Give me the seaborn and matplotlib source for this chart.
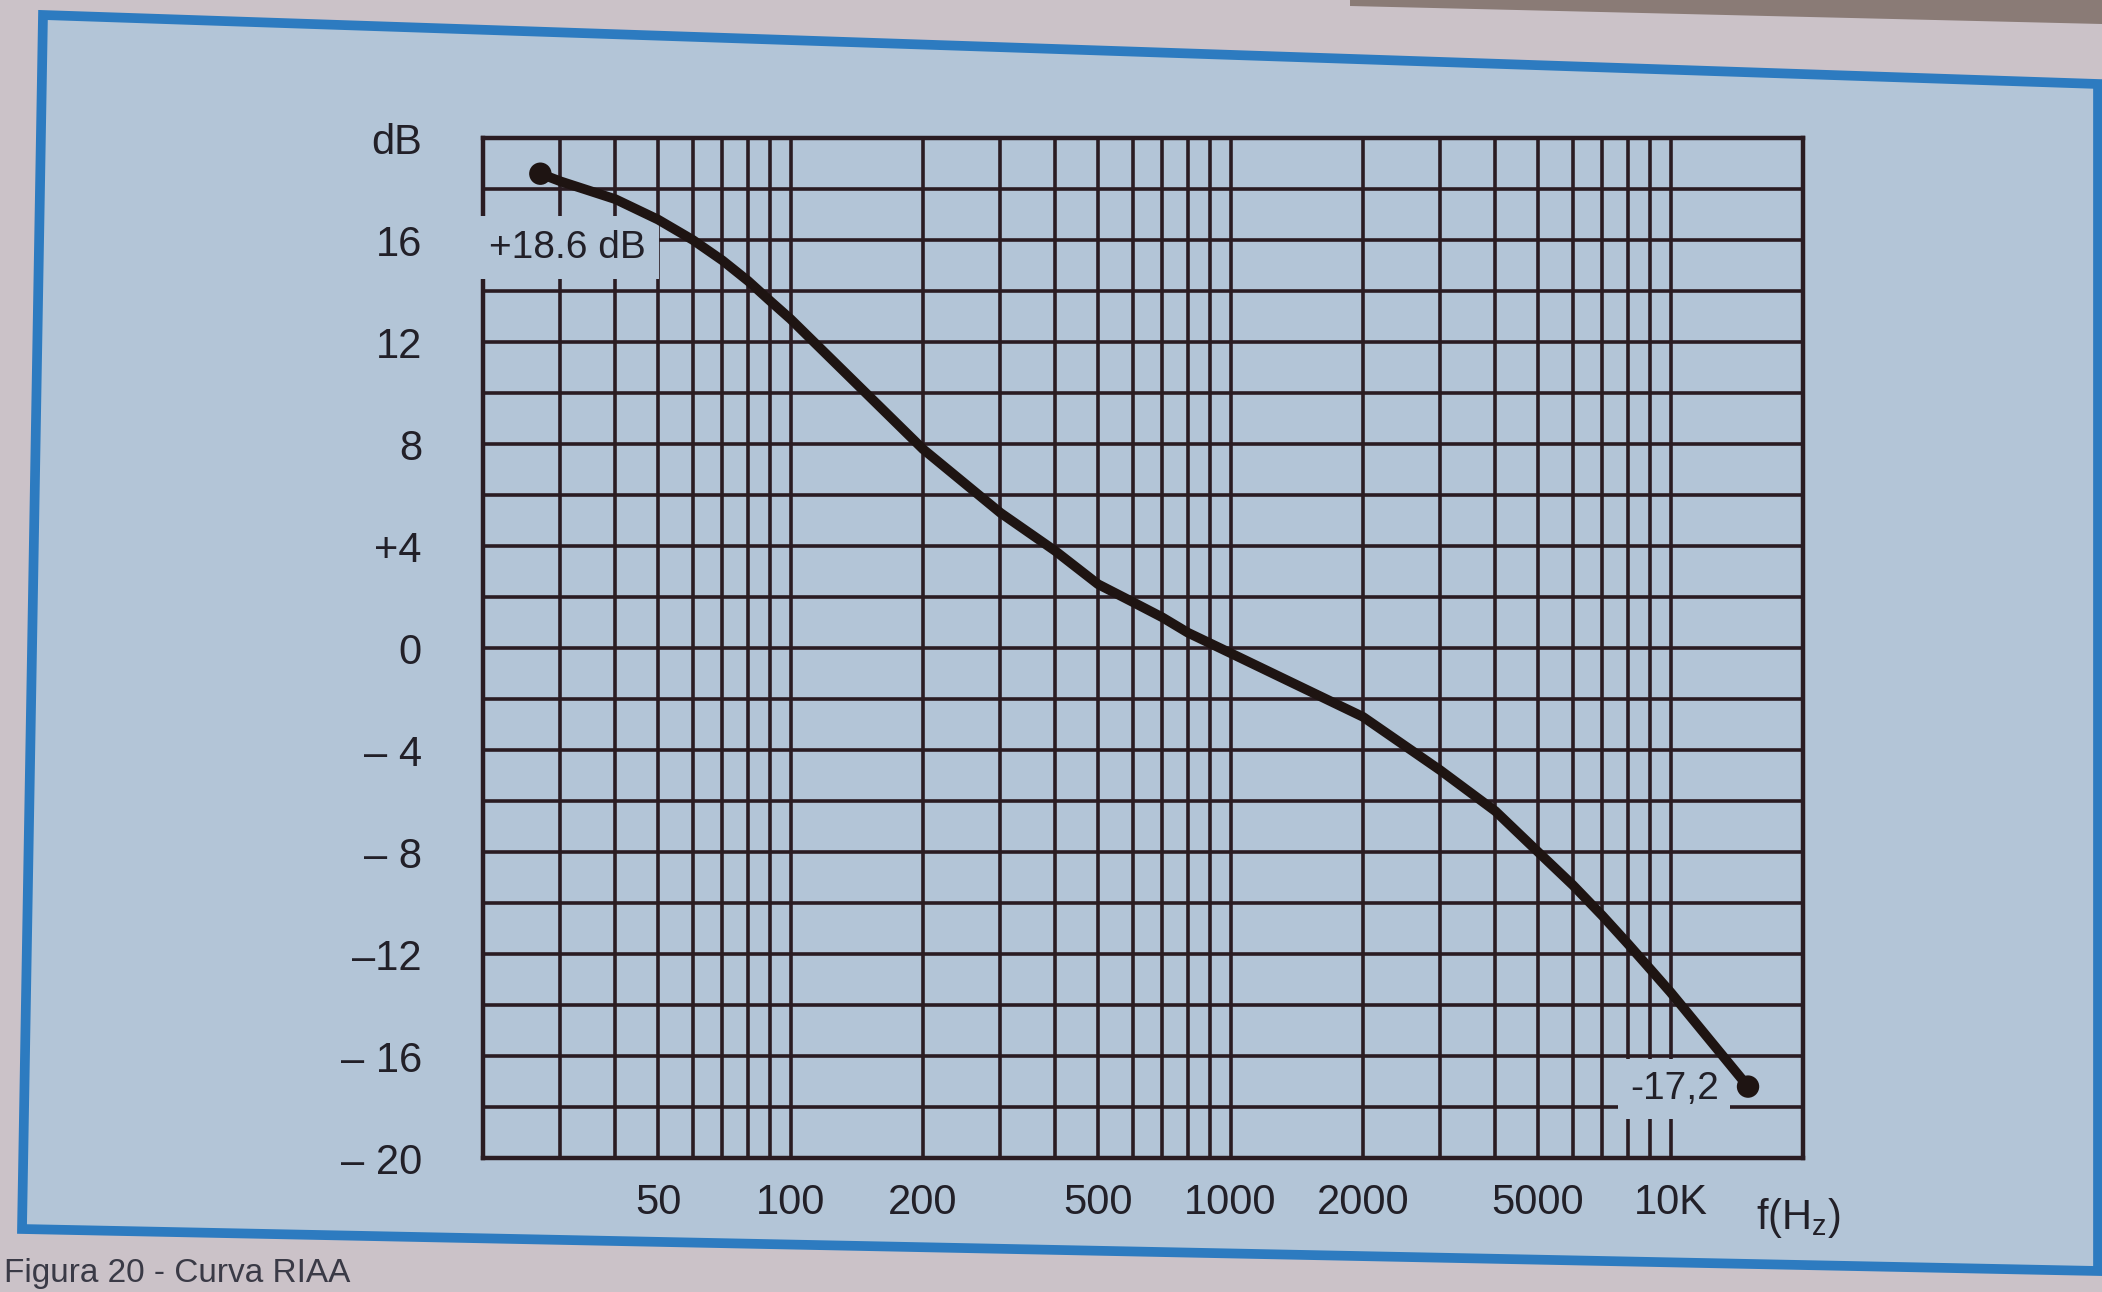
import matplotlib
matplotlib.use("Agg")
import matplotlib.pyplot as plt
import seaborn as sns
import pandas as pd
from matplotlib.patches import Polygon

# RIAA curve (frequency in Hz, gain in dB)
freq = [27, 30, 40, 50, 60, 70, 80, 90, 100, 200, 300, 400, 500, 600, 700, 800, 1000,
        2000, 3000, 4000, 5000, 6000, 7000, 8000, 9000, 10000, 15000]
gain = [18.6, 18.3, 17.6, 16.8, 16.0, 15.2, 14.4, 13.6, 12.9, 7.8, 5.3, 3.8, 2.5, 1.8, 1.2, 0.6, -0.2,
        -2.7, -4.8, -6.4, -8.0, -9.3, -10.5, -11.6, -12.6, -13.5, -17.2]

# end points marked with a dot
end_freq = [27, 15000]
end_gain = [18.6, -17.2]

x_ticks = [50, 100, 200, 500, 1000, 2000, 5000, 10000]
x_labels = ["50", "100", "200", "500", "1000", "2000", "5000", "10K"]
y_ticks = [20, 16, 12, 8, 4, 0, -4, -8, -12, -16, -20]
y_labels = ["dB", "16", "12", "8", "+4", "0", "– 4", "– 8", "–12", "– 16", "– 20"]

df = pd.DataFrame({"f": freq, "dB": gain})
ends = pd.DataFrame({"f": end_freq, "dB": end_gain})

sns.set_theme(style="white")
plt.rcParams["font.family"] = ["Liberation Sans", "DejaVu Sans"]
plt.rcParams["mathtext.fontset"] = "custom"
plt.rcParams["mathtext.rm"] = "Liberation Sans"

bg = "#b3c5d7"
ink = "#2a1c22"
W, H = 2102, 1292

fig = plt.figure(figsize=(W / 100, H / 100), dpi=100)
fig.patch.set_facecolor("#cbc2c8")

# blue frame of the printed figure (slightly tilted in the photo)
def px(pts):
    return [(x / W, 1 - y / H) for x, y in pts]

frame = Polygon(px([(43, 15), (2098, 84), (2098, 1271), (22, 1229)]), closed=True,
                transform=fig.transFigure, facecolor=bg, edgecolor="#2d7bc0",
                linewidth=7, zorder=-10)
fig.patches.append(frame)
band = Polygon(px([(1350, 0), (2102, 0), (2102, 24), (1350, 6)]), closed=True,
               transform=fig.transFigure, facecolor="#8a7b76", edgecolor="none", zorder=-9)
fig.patches.append(band)

ax = fig.add_axes([483 / W, 1 - 1158 / H, 1320 / W, (1158 - 138) / H])
ax.set_facecolor(bg)
ax.set_xscale("log")
ax.set_xlim(20, 20000)
ax.set_ylim(-20, 20)

# log paper grid
grid_x = [m * d for d in (10, 100, 1000) for m in range(2, 10)] + [10000]
ax.set_xticks(grid_x, minor=True)
ax.set_xticks(x_ticks)
ax.set_xticklabels(x_labels)
ax.set_yticks(list(range(-20, 21, 2)), minor=True)
ax.set_yticks(y_ticks)
ax.set_yticklabels(y_labels)
ax.xaxis.set_minor_formatter(plt.NullFormatter())
ax.grid(which="both", color=ink, linewidth=2.6)
ax.set_axisbelow(True)
ax.tick_params(which="both", length=0, labelsize=30, colors="#222028")
ax.tick_params(axis="y", pad=44)
ax.tick_params(axis="x", pad=18)
for s in ax.spines.values():
    s.set_color(ink)
    s.set_linewidth(3.2)

sns.lineplot(data=df, x="f", y="dB", ax=ax, color="#1e1412", linewidth=7,
             solid_joinstyle="round", solid_capstyle="round", zorder=5)
sns.scatterplot(data=ends, x="f", y="dB", ax=ax, color="#1e1412", s=260,
                edgecolor="none", zorder=6)
ax.set_xlabel("")
ax.set_ylabel("")

ax.text(20.6, 15.7, "+18.6 dB", ha="left", va="center", fontsize=28, color="#222028",
        bbox=dict(boxstyle="square,pad=0.35", fc=bg, ec="none"), zorder=4)
ax.text(10200, -17.3, "-17,2", ha="center", va="center", fontsize=28, color="#222028",
        bbox=dict(boxstyle="square,pad=0.3", fc=bg, ec="none"), zorder=4)

fig.text(1756 / W, 1 - 1218 / H, r"f(H$_\mathrm{z}$)", ha="left", va="center",
         fontsize=30, color="#222028")
fig.text(4 / W, 3 / H, "Figura 20 - Curva RIAA", ha="left", va="bottom",
         fontsize=24, color="#3a3a46")

fig.savefig("out.png", dpi=100, facecolor=fig.get_facecolor())
